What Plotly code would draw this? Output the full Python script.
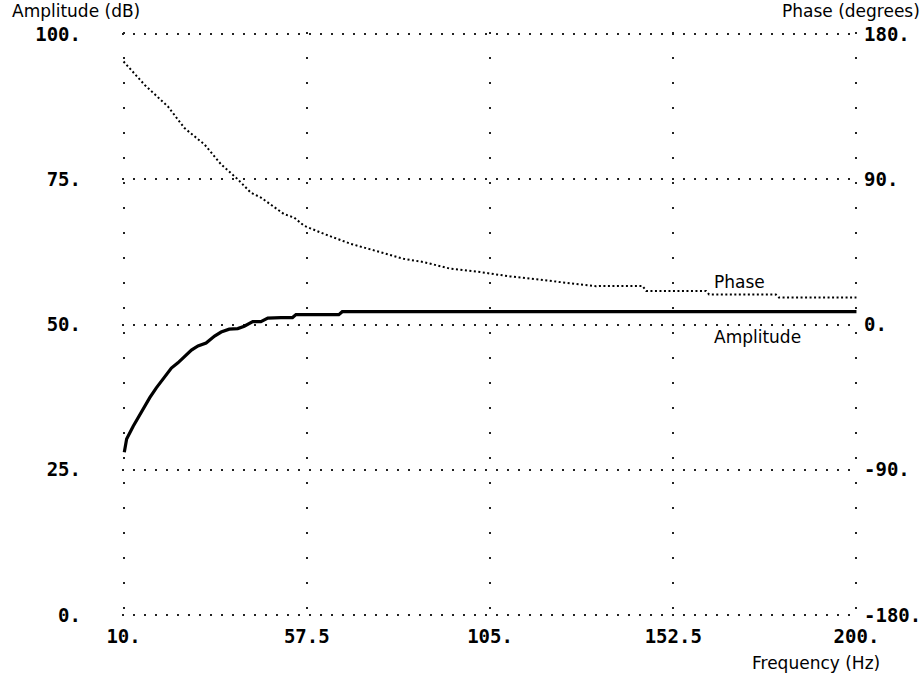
import plotly.graph_objects as go

# Frequency response: amplitude (dB, left axis) and phase (degrees, right axis)
amp_freq = [10.2, 10.8, 12.5, 13.8, 15.1, 16.8, 18.5, 20.2, 22.4, 24.1, 25.8, 27.6,
            29.3, 31.4, 33.6, 35.3, 37.4, 39.6, 41.3, 43.5, 45.6, 47.4, 50.8, 53.8,
            54.7, 65.8, 66.7, 90.0, 120.0, 150.0, 175.0, 200.0]
amp_db = [28.0, 30.3, 32.5, 34.0, 35.7, 37.4, 39.1, 40.5, 42.5, 43.4, 44.5, 45.6,
          46.3, 46.8, 48.0, 48.7, 49.2, 49.3, 49.7, 50.5, 50.5, 51.1, 51.2, 51.2,
          51.7, 51.7, 52.2, 52.2, 52.2, 52.2, 52.2, 52.2]

phase_freq = [10.0, 15.5, 21.5, 25.8, 31.0, 35.3, 39.6, 43.0, 45.6, 51.6, 54.2, 56.8,
              62.0, 68.9, 75.7, 82.6, 87.8, 94.7, 102.4, 110.2, 117.1, 124.8, 132.5,
              133.4, 144.5, 145.5, 161.0, 161.8, 179.1, 179.9, 200.0]
phase_deg = [163.0, 148.4, 135.1, 121.7, 111.5, 99.2, 90.0, 81.7, 78.7, 68.4, 66.3, 61.2,
             56.1, 50.0, 45.4, 40.7, 38.7, 34.6, 32.5, 29.8, 28.0, 25.7, 23.7,
             23.9, 23.9, 20.8, 20.8, 18.6, 18.6, 16.7, 16.7]

x_ticks = [10, 57.5, 105, 152.5, 200]
x_tick_text = ["10.", "57.5", "105.", "152.5", "200."]
amp_ticks = [0, 25, 50, 75, 100]
amp_tick_text = ["0.", "25.", "50.", "75.", "100."]
phase_ticks = [-180, -90, 0, 90, 180]
phase_tick_text = ["-180.", "-90.", "0.", "90.", "180."]

TICK_FONT = dict(family="DejaVu Sans Mono", size=19, color="black", weight="bold")
LABEL_FONT = dict(family="DejaVu Sans", size=17, color="black")

fig = go.Figure()

fig.add_trace(go.Scatter(
    x=phase_freq, y=phase_deg, yaxis="y2", mode="lines",
    line=dict(color="black", width=2, dash="2px,2.5px"),
    showlegend=False, hoverinfo="skip",
))
fig.add_trace(go.Scatter(
    x=amp_freq, y=amp_db, mode="lines",
    line=dict(color="black", width=3.2),
    showlegend=False, hoverinfo="skip",
))

fig.update_layout(
    width=923, height=679, autosize=False,
    margin=dict(l=122, r=65, t=32, b=62),
    paper_bgcolor="white", plot_bgcolor="white",
    xaxis=dict(
        range=[9.6, 200.4], tickvals=x_ticks, ticktext=x_tick_text,
        showgrid=True, gridcolor="#222", gridwidth=1.6, griddash="2px,23px",
        zeroline=False, showline=False, ticks="", tickfont=TICK_FONT,
        ticklabelstandoff=6, automargin=False,
    ),
    yaxis=dict(
        range=[-0.35, 100.35], tickvals=amp_ticks, ticktext=amp_tick_text,
        showgrid=True, gridcolor="#222", gridwidth=1.6, griddash="2px,9px",
        zeroline=False, showline=False, ticks="", tickfont=TICK_FONT,
        ticklabelstandoff=40, automargin=False,
    ),
    yaxis2=dict(
        range=[-181.26, 181.26], tickvals=phase_ticks, ticktext=phase_tick_text,
        overlaying="y", side="right", showgrid=False, zeroline=False,
        showline=False, ticks="", tickfont=TICK_FONT, ticklabelstandoff=5,
        automargin=False,
    ),
    annotations=[
        dict(text="Amplitude (dB)", xref="paper", yref="paper", x=-0.152, y=1.036,
             xanchor="left", yanchor="middle", showarrow=False, font=LABEL_FONT),
        dict(text="Phase (degrees)", xref="paper", yref="paper", x=1.087, y=1.036,
             xanchor="right", yanchor="middle", showarrow=False, font=LABEL_FONT),
        dict(text="Frequency (Hz)", xref="paper", yref="paper", x=1.0326, y=-0.0786,
             xanchor="right", yanchor="middle", showarrow=False, font=LABEL_FONT),
        dict(text="Phase", x=162.6, y=57.4, xanchor="left", yanchor="middle",
             showarrow=False, font=LABEL_FONT),
        dict(text="Amplitude", x=162.6, y=47.9, xanchor="left", yanchor="middle",
             showarrow=False, font=LABEL_FONT),
    ],
)

fig.write_html("out.html")
